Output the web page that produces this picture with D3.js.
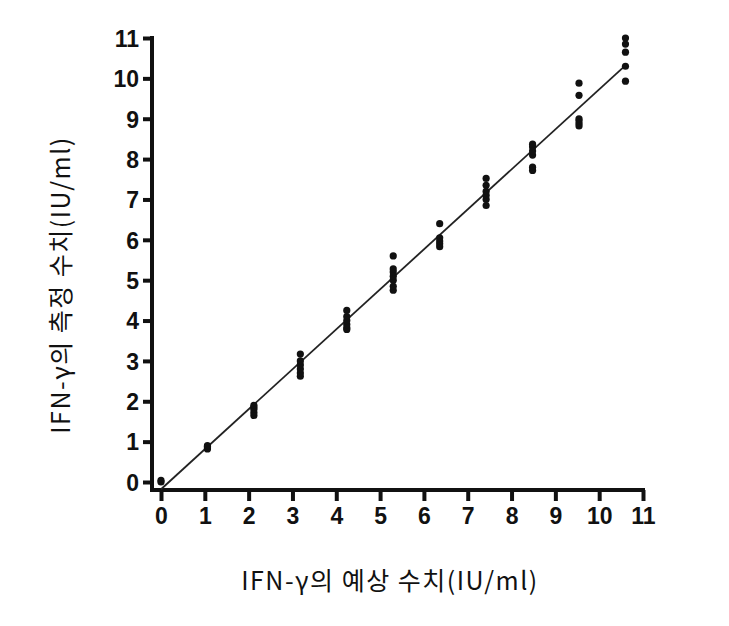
<!DOCTYPE html>
<html>
<head>
<meta charset="utf-8">
<script src="https://cdn.jsdelivr.net/npm/d3@7"></script>
<style>
  body { margin: 0; background: #fff; }
  .tick text { font-family: "Liberation Sans", Arial, sans-serif; font-weight: 700; font-size: 23px; fill: #111; }
  .lbl { font-family: "Noto Sans CJK KR", "Noto Sans", sans-serif; font-size: 25px; letter-spacing: 1.5px; fill: #111; }
</style>
</head>
<body>
<div id="chart"></div>
<script>
// expected level per group
var expected = [0, 1.06, 2.12, 3.18, 4.24, 5.3, 6.36, 7.42, 8.48, 9.54, 10.6];
// measured values per group
var measured = [
  [0.0, 0.04],
  [0.82, 0.85, 0.88, 0.9],
  [1.65, 1.72, 1.8, 1.85, 1.9],
  [2.62, 2.7, 2.8, 2.9, 3.0, 3.17],
  [3.78, 3.82, 3.9, 4.0, 4.1, 4.25],
  [4.75, 4.85, 5.0, 5.1, 5.2, 5.28, 5.6],
  [5.83, 5.9, 5.97, 6.05, 6.4],
  [6.85, 7.0, 7.1, 7.2, 7.35, 7.52],
  [7.72, 7.8, 8.1, 8.2, 8.3, 8.37],
  [8.82, 8.88, 8.95, 9.0, 9.58, 9.88],
  [9.93, 10.3, 10.65, 10.85, 11.0]
];
// fitted line end points
var fitX = [0, 10.6];
var fitY = [-0.18, 10.32];
var ticks = [0, 1, 2, 3, 4, 5, 6, 7, 8, 9, 10, 11];

var points = [];
expected.forEach(function(e, i) {
  measured[i].forEach(function(m) { points.push({x: e, y: m}); });
});

var svg = d3.select("#chart").append("svg")
    .attr("width", 729)
    .attr("height", 626);

var x = d3.scaleLinear().domain([0, 11]).range([161, 643]),
    y = d3.scaleLinear().domain([0, 11]).range([482, 38]);

var axisX = 152, axisY = 490;

var gy = svg.append("g")
    .attr("transform", "translate(" + axisX + ",0)")
    .call(d3.axisLeft(y).tickValues(ticks).tickSize(9).tickPadding(4).tickFormat(d3.format("d")));
gy.select(".domain").remove();
gy.selectAll(".tick line").attr("stroke", "#111").attr("stroke-width", 4);
gy.selectAll(".tick text").attr("dy", "0.36em");

var gx = svg.append("g")
    .attr("transform", "translate(0," + axisY + ")")
    .call(d3.axisBottom(x).tickValues(ticks).tickSize(11).tickPadding(7).tickFormat(d3.format("d")));
gx.select(".domain").remove();
gx.selectAll(".tick line").attr("stroke", "#111").attr("stroke-width", 4);

// axis lines
svg.append("line")
    .attr("x1", axisX).attr("x2", axisX)
    .attr("y1", y(11) - 2).attr("y2", axisY + 2)
    .attr("stroke", "#111").attr("stroke-width", 4);
svg.append("line")
    .attr("x1", axisX - 2).attr("x2", x(11) + 2)
    .attr("y1", axisY).attr("y2", axisY)
    .attr("stroke", "#111").attr("stroke-width", 4);

// regression line
svg.append("line")
    .attr("x1", x(fitX[0])).attr("y1", y(fitY[0]))
    .attr("x2", x(fitX[1])).attr("y2", y(fitY[1]))
    .attr("stroke", "#222").attr("stroke-width", 1.8);

svg.append("g").selectAll("circle")
    .data(points)
    .enter().append("circle")
    .attr("cx", function(d) { return x(d.x); })
    .attr("cy", function(d) { return y(d.y); })
    .attr("r", 3.6)
    .attr("fill", "#111");

svg.append("text")
    .attr("class", "lbl")
    .attr("x", 390).attr("y", 590)
    .attr("text-anchor", "middle")
    .text("IFN-γ의 예상 수치(IU/ml)");

svg.append("text")
    .attr("class", "lbl")
    .attr("transform", "translate(70,285) rotate(-90)")
    .attr("text-anchor", "middle")
    .text("IFN-γ의 측정 수치(IU/ml)");
</script>
</body>
</html>
